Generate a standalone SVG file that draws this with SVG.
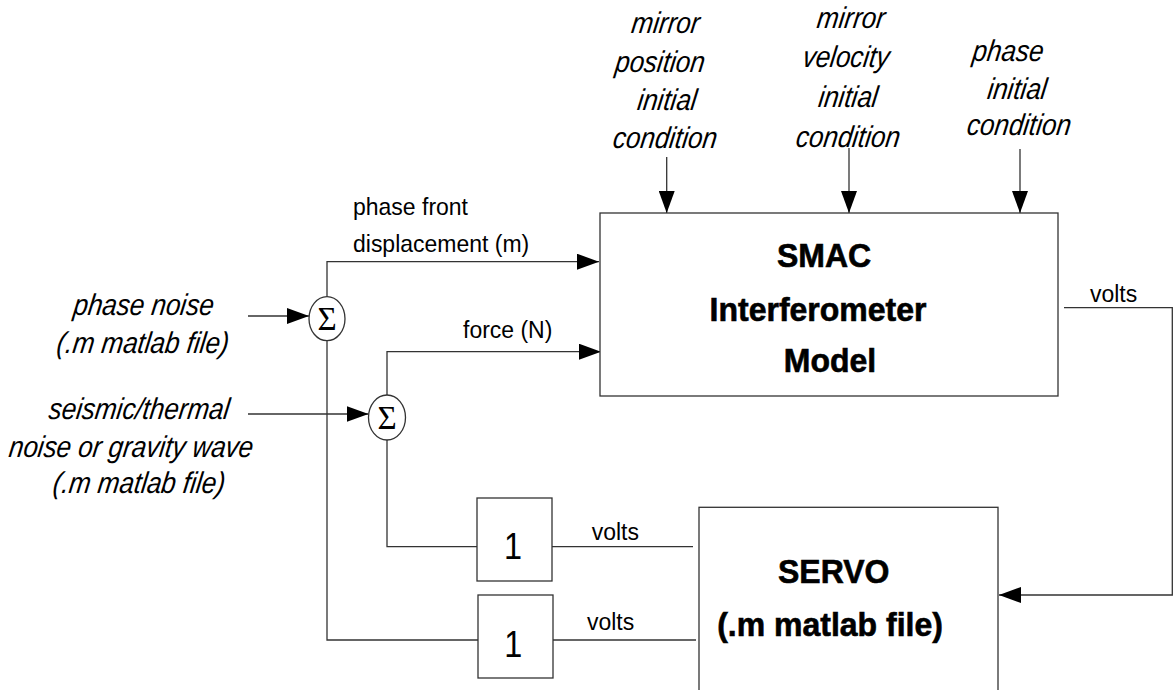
<svg xmlns="http://www.w3.org/2000/svg" width="1175" height="690" viewBox="0 0 1175 690">
<style>
.ln{fill:none;stroke:#333;stroke-width:1.3}
.box{fill:#fff;stroke:#333;stroke-width:1.3}
.it{font-family:"Liberation Sans",Arial,sans-serif;font-style:italic;font-size:26px;text-anchor:middle;fill:#000}
.lb{font-family:"Liberation Sans",Arial,sans-serif;font-size:23px;fill:#000}
.bd{font-family:"Liberation Sans",Arial,sans-serif;font-weight:bold;font-size:32px;text-anchor:middle;fill:#000;stroke:#000;stroke-width:0.6}
.one{font-family:"Liberation Sans",Arial,sans-serif;font-size:36px;text-anchor:middle;fill:#000}
.sig{font-family:"Liberation Serif","DejaVu Serif",serif;font-size:33px;text-anchor:middle;fill:#000}
</style>
<defs>
<marker id="ah" markerUnits="userSpaceOnUse" markerWidth="22" markerHeight="16" refX="22" refY="8" orient="auto"><path d="M0,0L22,8L0,16z" fill="#000"/></marker>
</defs>
<rect width="1175" height="690" fill="#fff"/>
<g id="connectors">
<path class="ln" d="M666.7,157V213" marker-end="url(#ah)"/>
<path class="ln" d="M849,148V213" marker-end="url(#ah)"/>
<path class="ln" d="M1020,149V213" marker-end="url(#ah)"/>
<path class="ln" d="M248,316H309" marker-end="url(#ah)"/>
<path class="ln" d="M248,414H368.5" marker-end="url(#ah)"/>
<path class="ln" d="M327,296.7V261.7H599" marker-end="url(#ah)"/>
<path class="ln" d="M327,340.7V640H478"/>
<path class="ln" d="M387,395V351.7H601" marker-end="url(#ah)"/>
<path class="ln" d="M387,440V546.7H477"/>
<path class="ln" d="M552,546.7H693"/>
<path class="ln" d="M553,640H696"/>
<path class="ln" d="M1064,307.7H1172.3V595H999" marker-end="url(#ah)"/>
<text class="lb" transform="translate(353,215) scale(1,1.07)">phase front</text>
<text class="lb" transform="translate(353,251.7) scale(1,1.07)">displacement (m)</text>
<text class="lb" transform="translate(463,338.3) scale(1,1.07)">force (N)</text>
<text class="lb" transform="translate(1090,302) scale(1,1.07)">volts</text>
<text class="lb" transform="translate(591.7,540) scale(1,1.07)">volts</text>
<text class="lb" transform="translate(587,630) scale(1,1.07)">volts</text>
</g>
<g id="smac">
<rect class="box" x="600" y="213" width="458" height="183"/>
<text class="bd" transform="translate(824,267.3) scale(1,1.05)">SMAC</text>
<text class="bd" transform="translate(818,320.7) scale(1,1.05)">Interferometer</text>
<text class="bd" transform="translate(830,371.7) scale(1,1.05)">Model</text>
</g>
<g id="servo">
<rect class="box" x="699" y="507.3" width="299" height="200"/>
<text class="bd" transform="translate(833.7,583) scale(1,1.05)">SERVO</text>
<text class="bd" transform="translate(830,636) scale(1,1.05)">(.m matlab file)</text>
</g>
<g id="gain1">
<rect class="box" x="477" y="498" width="75" height="83"/>
<text class="one" transform="translate(513,559.3) scale(0.9,1.05)">1</text>
</g>
<g id="gain2">
<rect class="box" x="478" y="595" width="75" height="83"/>
<text class="one" transform="translate(513.3,656.7) scale(0.9,1.05)">1</text>
</g>
<g id="sum1">
<ellipse class="box" cx="327" cy="318.7" rx="18" ry="22"/>
<text class="sig" x="327" y="330">Σ</text>
</g>
<g id="sum2">
<ellipse class="box" cx="387" cy="417.5" rx="18.5" ry="22.5"/>
<text class="sig" x="387" y="429">Σ</text>
</g>
<g id="ic-position">
<text class="it" transform="translate(664.5,33.3) scale(1,1.15) skewX(-9)">mirror</text>
<text class="it" transform="translate(659,71.7) scale(1,1.15) skewX(-9)">position</text>
<text class="it" transform="translate(666,110) scale(1,1.15) skewX(-9)">initial</text>
<text class="it" transform="translate(664,148.3) scale(1,1.15) skewX(-9)">condition</text>
</g>
<g id="ic-velocity">
<text class="it" transform="translate(850,28.3) scale(1,1.15) skewX(-9)">mirror</text>
<text class="it" transform="translate(845,66.7) scale(1,1.15) skewX(-9)">velocity</text>
<text class="it" transform="translate(847,106.7) scale(1,1.15) skewX(-9)">initial</text>
<text class="it" transform="translate(847,146.7) scale(1,1.15) skewX(-9)">condition</text>
</g>
<g id="ic-phase">
<text class="it" transform="translate(1007,61) scale(1,1.15) skewX(-9)">phase</text>
<text class="it" transform="translate(1016,99) scale(1,1.15) skewX(-9)">initial</text>
<text class="it" transform="translate(1018,135) scale(1,1.15) skewX(-9)">condition</text>
</g>
<g id="phase-noise">
<text class="it" transform="translate(142.5,315) scale(1,1.15) skewX(-9)">phase noise</text>
<text class="it" transform="translate(141.7,352.7) scale(1,1.15) skewX(-9)">(.m matlab file)</text>
</g>
<g id="seismic-noise">
<text class="it" transform="translate(138,419) scale(1,1.15) skewX(-9)">seismic/thermal</text>
<text class="it" transform="translate(130,456.7) scale(1,1.15) skewX(-9)">noise or gravity wave</text>
<text class="it" transform="translate(138,493) scale(1,1.15) skewX(-9)">(.m matlab file)</text>
</g>
</svg>
